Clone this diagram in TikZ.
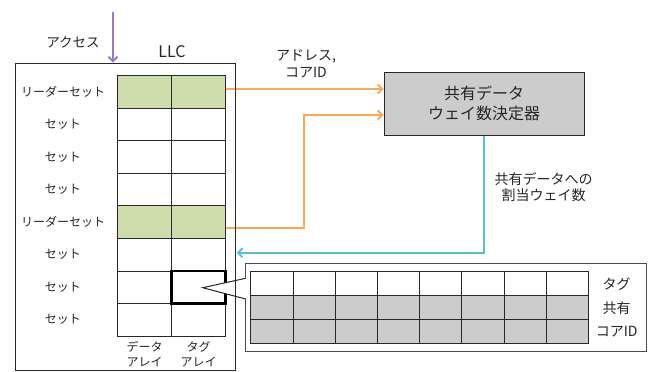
\documentclass[tikz,border=0pt]{standalone}
\usepackage{fontspec}
\setmainfont{Noto Sans CJK JP}
\usetikzlibrary{arrows.meta,calc}
\definecolor{leadgreen}{RGB}{206,221,172}
\definecolor{arrorange}{RGB}{250,168,88}
\definecolor{arrblue}{RGB}{92,188,216}
\definecolor{accpurple}{RGB}{150,122,196}
\definecolor{boxgray}{RGB}{204,204,204}
\definecolor{linegray}{RGB}{40,40,40}
\tikzset{
  cell/.style={draw=linegray, line width=0.8pt, minimum width=54pt, minimum height=32.54pt, inner sep=0pt, outer sep=0pt},
  pcell/.style={draw=linegray, line width=0.8pt, minimum width=42.2pt, minimum height=24pt, inner sep=0pt, outer sep=0pt},
  rowlab/.style={font=\fontsize{12}{15}\selectfont, text=black!85, inner sep=0pt},
  lab/.style={font=\fontsize{14}{16}\selectfont, text=black!85, align=center, inner sep=0pt},
  arrtip/.style={-{Straight Barb[length=4.5pt,width=9pt]}},
  oarrow/.style={arrtip, draw=arrorange, line width=1.9pt},
  barrow/.style={arrtip, draw=arrblue, line width=1.9pt},
  parrow/.style={arrtip, draw=accpurple, line width=1.9pt},
}
\begin{document}
\begin{tikzpicture}[x=1pt,y=-1pt]
\useasboundingbox (0,0) rectangle (651,372);
\fill[white] (0,0) rectangle (651,372);

% LLC grid
\foreach \r/\f/\t in {1/leadgreen/リーダーセット,2/white/セット,3/white/セット,4/white/セット,5/leadgreen/リーダーセット,6/white/セット,7/white/セット,8/white/セット} {
  \node[cell, fill=\f] (d\r) at (144.7, {75.7+32.54*(\r-0.5)}) {};
  \node[cell, fill=\f] (t\r) at (198.7, {75.7+32.54*(\r-0.5)}) {};
  \node[rowlab] (l\r) at (63, {75.7+32.54*(\r-0.5)}) {\t};
}
\draw[line width=2.6pt, black] (t7.north west) rectangle (t7.south east);

\node[rowlab, align=center] (darr) at (144.5, 354) {データ\\アレイ};
\node[rowlab, align=center] (tarr) at (198.5, 354) {タグ\\アレイ};
\node[font=\fontsize{16}{18}\selectfont, text=black!85, inner sep=0pt] (llclab) at (172, 52) {LLC};
\node[font=\fontsize{13.5}{16}\selectfont, text=black!85, inner sep=0pt] (acclab) at (73, 42) {アクセス};

% decider box
\node[draw=linegray, fill=boxgray, line width=1pt, minimum width=200.3pt, minimum height=63.3pt, inner sep=0pt, align=center, font=\fontsize{16}{20}\selectfont, text=black!85] (dec) at (484.2, 103.7) {共有データ\\ウェイ数決定器};

\node[lab, font=\fontsize{14}{17.5}\selectfont] (addr) at (306, 64) {アドレス,\\コアID};
\node[lab] (share) at (543.5, 187) {共有データへの\\割当ウェイ数};

% arrows
\coordinate (o1s) at ([yshift=3pt]t1.east);
\draw[oarrow] (o1s) -- (o1s -| dec.west);
\coordinate (o2s) at ([yshift=-5.6pt]t5.east);
\coordinate (o2b) at (304.3, 115);
\draw[oarrow] (o2s) -- (o2s -| o2b) -- (o2b) -- (o2b -| dec.west);
\coordinate (bend) at (236.7, 252.7);
\draw[barrow] (dec.south) |- (bend);

% zoomed tag panel
\node[draw=black!70, line width=1pt, fill=white, minimum width=400.3pt, minimum height=87.7pt, inner sep=0pt] (panel) at (445.85, 307.15) {};
\foreach \c in {1,...,8} {
  \node[pcell, fill=white] (p1\c) at ({250.7+42.2*(\c-0.5)}, 283.7) {};
  \node[pcell, fill=boxgray] (p2\c) at ({250.7+42.2*(\c-0.5)}, 307.7) {};
  \node[pcell, fill=boxgray] (p3\c) at ({250.7+42.2*(\c-0.5)}, 331.7) {};
}
\node[lab] (ptag) at (616.7, 283.7) {タグ};
\node[lab] (pshr) at (616.7, 307.7) {共有};
\node[lab] (pcid) at (616.7, 331.2) {コアID};

% callout wedge
\coordinate (w1) at (245.7, 278.3);
\coordinate (wp) at (202.7, 287.7);
\coordinate (w2) at (245.7, 299);
\fill[white] (246.9, 278.0) -- (wp) -- (246.9, 299.3) -- cycle;
\draw[line width=1pt, black!85] (w1) -- (wp) -- (w2);

% LLC outer box
\node[draw=linegray, line width=0.9pt, minimum width=220pt, minimum height=307.5pt, inner sep=0pt] (llc) at (125, 216.75) {};
\coordinate (acc) at (113, 12);
\draw[parrow] (acc) -- (acc |- llc.north);
\end{tikzpicture}
\end{document}
